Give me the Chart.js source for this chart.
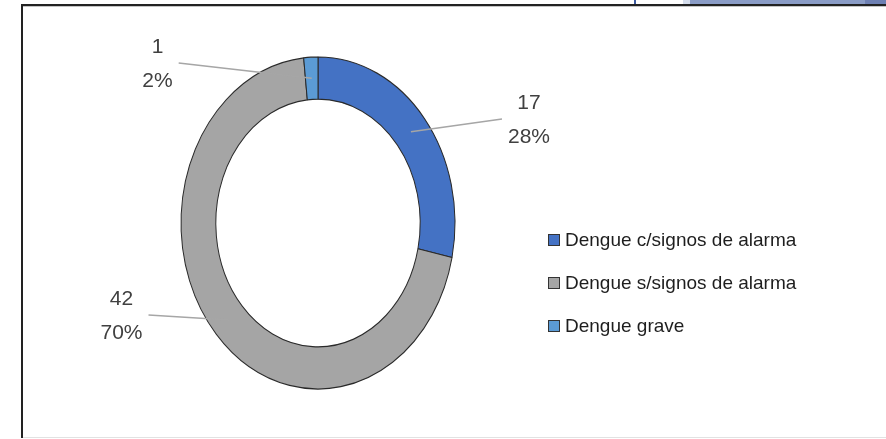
<!DOCTYPE html>
<html>
<head>
<meta charset="utf-8">
<title>Dengue</title>
<script src="https://cdn.jsdelivr.net/npm/chart.js@4.4.1/dist/chart.umd.min.js"></script>
<style>
  html, body { margin: 0; padding: 0; background: #fff; }
  #wrap { position: relative; width: 886px; height: 439px; overflow: hidden; }
  #wrap div { position: absolute; }
  canvas { position: absolute; left: 0; top: 0; }
</style>
</head>
<body>
<div id="wrap">
  <!-- bits of the page behind the chart frame -->
  <div style="left:634px;top:0;width:2px;height:5px;background:#3d5a9e"></div>
  <div style="left:683px;top:0;width:7px;height:5px;background:#d5ddec"></div>
  <div style="left:690px;top:0;width:175px;height:5px;background:#8a9cc6"></div>
  <div style="left:865px;top:0;width:21px;height:5px;background:#6e80b3"></div>
  <!-- frame -->
  <div style="left:21px;top:4px;width:865px;height:2px;background:#222"></div>
  <div style="left:21px;top:6px;width:865px;height:1px;background:#c4c4c4"></div>
  <div style="left:21px;top:4px;width:2px;height:434px;background:#222"></div>
  <div style="left:23px;top:437px;width:863px;height:1px;background:#e2e2e2"></div>
  <canvas id="dengueChart" width="886" height="439"></canvas>
</div>
<script>
// values
const categories = ["Dengue c/signos de alarma", "Dengue s/signos de alarma", "Dengue grave"];
const cases = [17, 42, 1];
const sliceColors = ["#4472C4", "#A5A5A5", "#5B9BD5"];

const total = cases.reduce((a, b) => a + b, 0);
const percents = cases.map(v => Math.round(v / total * 100) + "%");

const labelColor = "#404040";
const legendColor = "#1e1e1e";
const fontFamily = "'Liberation Sans', Arial, sans-serif";

// the ring in the original is a bit taller than wide
const stretchY = 166 / 137;

const ellipsePlugin = {
  id: "ellipse",
  beforeDatasetsDraw(chart) {
    const arc = chart.getDatasetMeta(0).data[0];
    const ctx = chart.ctx;
    ctx.save();
    ctx.translate(arc.x, arc.y);
    ctx.scale(1, stretchY);
    ctx.translate(-arc.x, -arc.y);
  },
  afterDatasetsDraw(chart) {
    chart.ctx.restore();
  }
};

// label blocks placed like Excel's "best fit" (centre of the two text lines)
const labelSpots = [[529, 120], [121.5, 316], [157.5, 64]];

const labelPlugin = {
  id: "sliceLabels",
  afterDraw(chart) {
    const ctx = chart.ctx;
    const arcs = chart.getDatasetMeta(0).data;
    ctx.save();
    ctx.font = "21px " + fontFamily;
    arcs.forEach((arc, i) => {
      const p = arc.getCenterPoint();
      const px = p.x;
      const py = arc.y + (p.y - arc.y) * stretchY;
      const [lx, ly] = labelSpots[i];
      const lines = [String(cases[i]), percents[i]];
      const half = Math.max(...lines.map(t => ctx.measureText(t).width)) / 2;
      const sx = px > lx ? lx + half + 6 : lx - half - 6;

      ctx.strokeStyle = "#a6a6a6";
      ctx.lineWidth = 1.6;
      ctx.beginPath();
      ctx.moveTo(sx, ly - 1);
      ctx.lineTo(px, py);
      ctx.stroke();

      ctx.fillStyle = labelColor;
      ctx.textAlign = "center";
      ctx.textBaseline = "middle";
      ctx.fillText(lines[0], lx, ly - 17);
      ctx.fillText(lines[1], lx, ly + 17);
    });

    // legend
    ctx.font = "19px " + fontFamily;
    ctx.textAlign = "left";
    ctx.textBaseline = "middle";
    categories.forEach((name, i) => {
      const y = 240 + i * 43;
      ctx.fillStyle = sliceColors[i];
      ctx.fillRect(548, y - 6, 12, 12);
      ctx.strokeStyle = "#333";
      ctx.lineWidth = 1;
      ctx.strokeRect(548.5, y - 5.5, 11, 11);
      ctx.fillStyle = legendColor;
      ctx.fillText(name, 565, y + 1);
    });
    ctx.restore();
  }
};

new Chart(document.getElementById("dengueChart").getContext("2d"), {
  type: "doughnut",
  data: {
    labels: categories,
    datasets: [{
      data: cases,
      backgroundColor: sliceColors,
      borderColor: "#2a2a2a",
      borderWidth: 1
    }]
  },
  options: {
    responsive: false,
    animation: false,
    radius: 137,
    cutout: "74.6%",
    layout: { padding: { left: 0, right: 250, top: 7, bottom: 0 } },
    plugins: {
      legend: { display: false },
      tooltip: { enabled: false }
    }
  },
  plugins: [ellipsePlugin, labelPlugin]
});
</script>
</body>
</html>
